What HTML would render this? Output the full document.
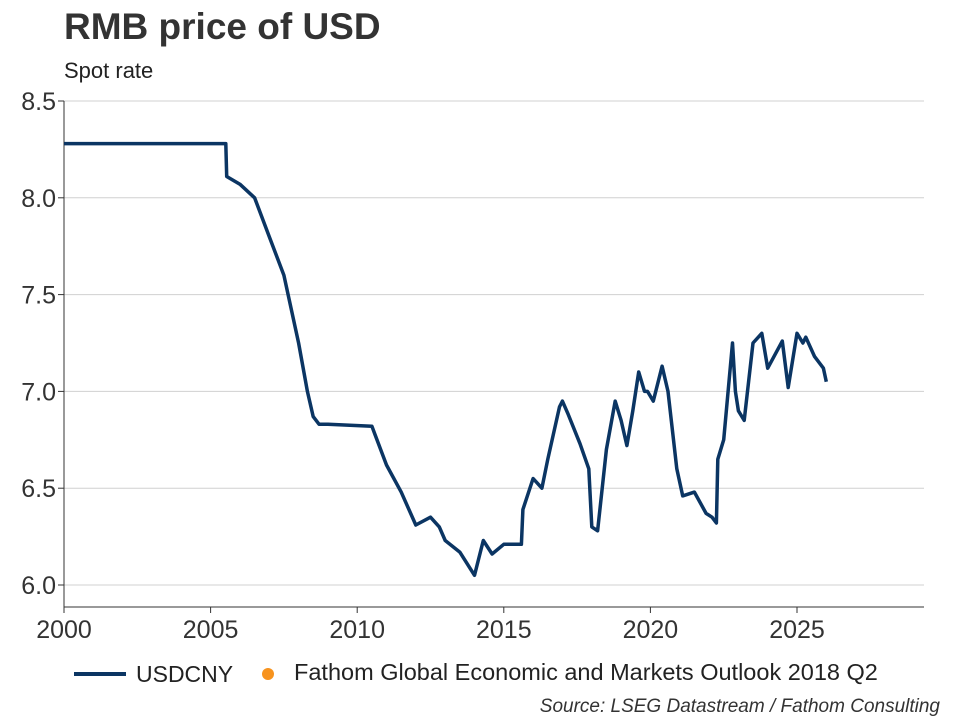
<!DOCTYPE html>
<html><head><meta charset="utf-8"><style>
body{margin:0;background:#fff;font-family:"Liberation Sans",Arial,sans-serif;}
#c{position:relative;width:960px;height:720px;overflow:hidden}
</style></head><body><div id="c">
<svg id="s" width="960" height="720">
<text x="64" y="39" font-size="37" font-weight="bold" fill="#333">RMB price of USD</text>
<text x="64" y="78" font-size="22" fill="#222">Spot rate</text>
<g id="grid"></g><g id="axes"></g><g id="series"></g>
<line x1="74" y1="674" x2="126" y2="674" stroke="#0b3563" stroke-width="4"/>
<text x="136" y="682" font-size="23" fill="#222">USDCNY</text>
<circle cx="268" cy="674" r="6" fill="#f7931e"/>
<text x="294" y="680" font-size="23.5" fill="#222">Fathom Global Economic and Markets Outlook 2018 Q2</text>
<text x="940" y="712" font-size="19" font-style="italic" fill="#333" text-anchor="end">Source: LSEG Datastream / Fathom Consulting</text>
</svg></div>
<script>
const yTicks=[6.0,6.5,7.0,7.5,8.0,8.5];
const xTicks=[2000,2005,2010,2015,2020,2025];
const years=[2000,2005.52,2005.55,2006.0,2006.5,2007.0,2007.5,2008.0,2008.3,2008.5,2008.7,2009.0,2010.5,2010.6,2011.0,2011.5,2012.0,2012.5,2012.8,2013.0,2013.5,2014.0,2014.3,2014.6,2015.0,2015.6,2015.65,2016.0,2016.3,2016.5,2016.9,2017.0,2017.2,2017.6,2017.9,2018.0,2018.2,2018.5,2018.8,2019.0,2019.2,2019.4,2019.6,2019.8,2019.9,2020.1,2020.4,2020.6,2020.9,2021.1,2021.5,2021.9,2022.1,2022.25,2022.3,2022.5,2022.8,2022.9,2023.0,2023.2,2023.5,2023.8,2024.0,2024.5,2024.7,2025.0,2025.2,2025.3,2025.6,2025.9,2026.0];
const usdcny=[8.28,8.28,8.11,8.07,8.00,7.80,7.60,7.25,7.00,6.87,6.83,6.83,6.82,6.78,6.62,6.48,6.31,6.35,6.30,6.23,6.17,6.05,6.23,6.16,6.21,6.21,6.39,6.55,6.50,6.65,6.92,6.95,6.88,6.73,6.60,6.30,6.28,6.70,6.95,6.85,6.72,6.90,7.10,7.00,7.00,6.95,7.13,7.00,6.60,6.46,6.48,6.37,6.35,6.32,6.65,6.75,7.25,7.00,6.90,6.85,7.25,7.30,7.12,7.26,7.02,7.30,7.25,7.28,7.18,7.12,7.05];
const L=64,R=924,T=101,B=607;
const x=v=>L+(v-2000)*(797-64)/25;
const y=v=>585-(v-6)*(585-101)/2.5;
const NS="http://www.w3.org/2000/svg";
function mk(p,t,a){const e=document.createElementNS(NS,t);for(const k in a)e.setAttribute(k,a[k]);p.appendChild(e);return e;}
const grid=document.getElementById('grid'),axes=document.getElementById('axes'),ser=document.getElementById('series');
yTicks.forEach(v=>{
 const g=mk(grid,'line',{x1:L,x2:R,y1:y(v),y2:y(v),stroke:'#d0d0d0','stroke-width':1});
 
 
 mk(axes,'line',{x1:L-6,x2:L,y1:y(v),y2:y(v),stroke:'#333'});
 const t=mk(axes,'text',{x:L-8,y:y(v)+9,'font-size':25,'text-anchor':'end',fill:'#333'});t.textContent=v.toFixed(1);
 
 
});
mk(axes,'line',{x1:L,x2:L,y1:T,y2:B,stroke:'#333'});
mk(axes,'line',{x1:L,x2:R,y1:B,y2:B,stroke:'#333'});
xTicks.forEach(v=>{
 mk(axes,'line',{x1:x(v),x2:x(v),y1:B,y2:B+6,stroke:'#333'});
 const t=mk(axes,'text',{x:x(v),y:B+31,'font-size':25,'text-anchor':'middle',fill:'#333'});t.textContent=v;
 
 
});
const p=mk(ser,'path',{d:years.map((v,i)=>(i?'L':'M')+x(v).toFixed(1)+','+y(usdcny[i]).toFixed(1)).join(''),fill:'none',stroke:'#0b3563','stroke-width':3.5,'stroke-linejoin':'round'});


</script></body></html>
